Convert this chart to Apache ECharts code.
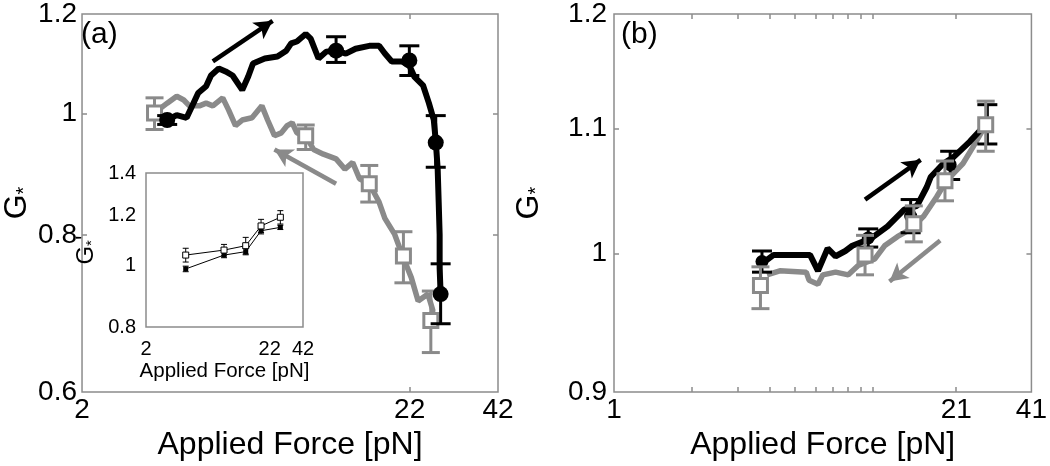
<!DOCTYPE html>
<html>
<head>
<meta charset="utf-8">
<title>G* vs applied force</title>
<script src="https://cdn.jsdelivr.net/npm/echarts@6/dist/echarts.min.js"></script>
<style>
  html, body { margin: 0; padding: 0; background: #fff; }
  #chart { width: 1050px; height: 466px; }
</style>
</head>
<body>
<div id="chart"></div>
<script>
// ---- panel (a) ----
// force going up (black trace)
var upForceA = [3.73, 4.00, 4.30, 4.52, 4.68, 4.96, 5.14, 5.44, 5.72, 6.02, 6.46, 6.75, 6.99, 7.62, 8.36, 8.92, 9.24, 9.64, 10.28, 10.66, 11.29, 11.95, 12.84, 13.79, 14.81, 16.37, 17.59, 18.35, 19.30, 20.73, 21.95, 22.75, 24.26, 25.33, 26.25, 26.63, 27.01, 27.21, 27.40, 27.40, 27.60];
var upGA = [0.988, 0.997, 0.992, 1.019, 1.038, 1.051, 1.072, 1.086, 1.080, 1.072, 1.044, 1.070, 1.096, 1.106, 1.110, 1.122, 1.137, 1.141, 1.157, 1.147, 1.106, 1.120, 1.122, 1.116, 1.126, 1.132, 1.132, 1.116, 1.100, 1.100, 1.092, 1.070, 1.053, 1.019, 0.988, 0.951, 0.903, 0.850, 0.801, 0.753, 0.718];
// force going down (gray trace)
var downForceA = [3.40, 3.73, 4.00, 4.21, 4.39, 4.72, 4.96, 5.21, 5.60, 5.85, 6.15, 6.46, 6.94, 7.46, 7.78, 8.18, 8.60, 8.98, 9.31, 9.64, 10.28, 10.89, 11.70, 12.84, 13.70, 14.50, 15.24, 16.37, 17.59, 18.35, 19.72, 21.02, 22.27, 23.41, 25.15, 26.06, 25.69];
var downGA = [1.001, 1.019, 1.032, 1.025, 1.014, 1.014, 1.019, 1.014, 1.029, 1.006, 0.978, 0.988, 0.992, 1.014, 0.988, 0.960, 0.965, 0.978, 0.983, 0.965, 0.960, 0.936, 0.928, 0.920, 0.903, 0.914, 0.887, 0.879, 0.850, 0.825, 0.801, 0.767, 0.740, 0.709, 0.718, 0.697, 0.684];
// averaged points with error bars
var circForceA = [3.73, 12.84, 21.95, 26.63, 27.60];
var circGA = [0.988, 1.122, 1.102, 0.948, 0.718];
var circLoA = [0.980, 1.098, 1.072, 0.906, 0.680];
var circHiA = [0.996, 1.151, 1.132, 0.996, 0.759];
var sqForceA = [3.40, 10.28, 16.37, 21.02, 25.69];
var sqGA = [1.001, 0.960, 0.879, 0.770, 0.684];
var sqLoA = [0.971, 0.936, 0.850, 0.733, 0.645];
var sqHiA = [1.029, 0.979, 0.909, 0.805, 0.722];
// arrows [start, end]
var upArrowA = [[5.21, 1.100], [8.07, 1.185]];
var downArrowA = [[12.84, 0.879], [8.18, 0.936]];

// ---- inset of (a) ----
var inForce = [4.32, 9.08, 13.83, 18.62, 27.07];
var inOpen = [1.039, 1.058, 1.075, 1.155, 1.192];
var inOpenLo = [1.013, 1.036, 1.043, 1.128, 1.163];
var inOpenHi = [1.065, 1.080, 1.108, 1.183, 1.221];
var inFilled = [0.988, 1.039, 1.052, 1.135, 1.149];
var inFilledLo = [0.978, 1.029, 1.040, 1.122, 1.140];
var inFilledHi = [0.998, 1.049, 1.064, 1.148, 1.158];

// ---- panel (b) ----
var upForceB = [3.64, 4.14, 5.72, 6.14, 6.69, 7.18, 7.83, 8.33, 9.91, 11.40, 13.22, 14.81, 16.16, 16.73, 18.74, 20.45, 23.7, 25.9, 27.7];
var upGB = [0.991, 0.999, 0.999, 0.987, 1.004, 0.998, 1.002, 1.006, 1.012, 1.021, 1.034, 1.037, 1.052, 1.060, 1.071, 1.076, 1.089, 1.098, 1.102];
var downForceB = [3.90, 4.37, 5.53, 5.67, 6.14, 6.41, 7.18, 8.04, 8.78, 10.18, 11.10, 12.44, 14.05, 15.74, 17.63, 19.24, 22.3, 24.3, 27.3];
var downGB = [0.984, 0.987, 0.986, 0.980, 0.977, 0.984, 0.986, 0.984, 0.991, 0.996, 1.006, 1.013, 1.019, 1.029, 1.044, 1.057, 1.071, 1.084, 1.103];
var circForceB = [3.73, 9.6, 14.0, 19.9, 27.7];
var circGB = [0.994, 1.012, 1.029, 1.070, 1.102];
var circLoB = [0.986, 1.005, 1.016, 1.058, 1.087];
var circHiB = [1.002, 1.019, 1.042, 1.081, 1.120];
var sqForceB = [3.68, 9.33, 14.4, 19.0, 27.3];
var sqGB = [0.976, 0.999, 1.023, 1.057, 1.103];
var sqLoB = [0.959, 0.984, 1.009, 1.041, 1.081];
var sqHiB = [0.990, 1.014, 1.037, 1.073, 1.123];
var upArrowB = [[9.33, 1.042], [15.30, 1.074]];
var downArrowB = [[18.2, 1.010], [11.6, 0.979]];

// tick / label positions
var xLabelsA = [2, 22, 42];
var yLabelsA = [0.6, 0.8, 1, 1.2];
var xLabelsB = [1, 21, 41];
var xTicksB = [2, 3, 4, 5, 6, 7, 8, 9, 10, 21];
var yLabelsB = [0.9, 1, 1.1, 1.2];
var yLabelsIn = [0.8, 1, 1.2, 1.4];

var GRAY = '#8a8a8a';
var FRAME = '#8c8c8c';
var FONT = 'Liberation Sans, Arial, sans-serif';

function zip(xs, ys) {
  return xs.map(function (x, i) { return [x, ys[i]]; });
}
function zip3(xs, lo, hi) {
  return xs.map(function (x, i) { return [x, lo[i], hi[i]]; });
}

function errorBars(capHalf, color, width) {
  return function (params, api) {
    var x = api.value(0);
    var top = api.coord([x, api.value(2)]);
    var bot = api.coord([x, api.value(1)]);
    var style = { stroke: color, lineWidth: width };
    return {
      type: 'group',
      children: [
        { type: 'line', shape: { x1: top[0], y1: top[1], x2: bot[0], y2: bot[1] }, style: style },
        { type: 'line', shape: { x1: top[0] - capHalf, y1: top[1], x2: top[0] + capHalf, y2: top[1] }, style: style },
        { type: 'line', shape: { x1: bot[0] - capHalf, y1: bot[1], x2: bot[0] + capHalf, y2: bot[1] }, style: style }
      ]
    };
  };
}

function arrowLine(pts, color) {
  return {
    silent: true,
    symbol: ['none', 'arrow'],
    symbolSize: [15, 18],
    label: { show: false },
    lineStyle: { color: color, width: 4.5, type: 'solid', opacity: 1 },
    data: [[{ coord: pts[0] }, { coord: pts[1] }]]
  };
}

// one log axis; labels / ticks given as lists
function logAxis(grid, pos, min, max, labels, ticks, fontSize, margin) {
  return {
    type: 'log',
    logBase: 10,
    gridIndex: grid,
    position: pos,
    min: min,
    max: max,
    axisLine: { show: false },
    splitLine: { show: false },
    axisTick: { show: true, inside: true, length: 5, customValues: ticks, lineStyle: { color: FRAME, width: 1.5 } },
    axisLabel: labels ? { show: true, customValues: labels, fontSize: fontSize, fontFamily: FONT, color: '#000', margin: margin } : { show: false }
  };
}

var xAxes = [
  logAxis(0, 'bottom', 2, 42, xLabelsA, [22], 28, 4),
  logAxis(0, 'top', 2, 42, null, [22]),
  logAxis(1, 'bottom', 1, 41, xLabelsB, xTicksB, 28, 4),
  logAxis(1, 'top', 1, 41, null, xTicksB),
  logAxis(2, 'bottom', 2, 42, xLabelsA, [22], 20, 12)
];
var yAxes = [
  logAxis(0, 'left', 0.6, 1.2, yLabelsA, [0.8, 1], 28, 5),
  logAxis(0, 'right', 0.6, 1.2, null, [0.8, 1]),
  logAxis(1, 'left', 0.9, 1.2, yLabelsB, [1, 1.1], 28, 7),
  logAxis(1, 'right', 0.9, 1.2, null, [1, 1.1]),
  logAxis(2, 'left', 0.8, 1.4, yLabelsIn, [1, 1.2], 20, 10)
];

var forceName = 'Applied Force [pN]';
xAxes[0].name = forceName;
xAxes[0].nameLocation = 'middle';
xAxes[0].nameGap = 36;
xAxes[0].nameTextStyle = { fontSize: 32, fontFamily: FONT, color: '#000' };
xAxes[2].name = forceName;
xAxes[2].nameLocation = 'middle';
xAxes[2].nameGap = 32;
xAxes[2].nameTextStyle = { fontSize: 32, fontFamily: FONT, color: '#000' };
xAxes[4].name = forceName;
xAxes[4].nameLocation = 'middle';
xAxes[4].nameGap = 34;
xAxes[4].nameTextStyle = { fontSize: 20.5, fontFamily: FONT, color: '#000' };

function gName(size, sub) {
  return {
    fontSize: size,
    fontFamily: FONT,
    color: '#000',
    rich: {
      g: { fontSize: size, fontFamily: FONT, color: '#000' },
      s: { fontSize: sub, fontFamily: FONT, color: '#000', padding: [size * 0.45, 0, 0, 0] }
    }
  };
}
yAxes[0].name = '{g|G}{s|*}';
yAxes[0].nameLocation = 'middle';
yAxes[0].nameGap = 46;
yAxes[0].nameTextStyle = gName(32, 20);
yAxes[2].name = '{g|G}{s|*}';
yAxes[2].nameLocation = 'middle';
yAxes[2].nameGap = 68;
yAxes[2].nameTextStyle = gName(32, 20);
yAxes[4].name = "{g|G}{s|*}{g|'}";
yAxes[4].nameLocation = 'middle';
yAxes[4].nameGap = 47;
yAxes[4].nameTextStyle = gName(24, 15);

var chart = echarts.init(document.getElementById('chart'), null, { renderer: 'canvas' });

chart.setOption({
  animation: false,
  backgroundColor: '#fff',
  title: [
    { text: '(a)', left: 81, top: 20, padding: 0, textStyle: { fontSize: 30, fontWeight: 'normal', fontFamily: FONT, color: '#000' } },
    { text: '(b)', left: 621, top: 20, padding: 0, textStyle: { fontSize: 30, fontWeight: 'normal', fontFamily: FONT, color: '#000' } }
  ],
  grid: [
    { left: 73, top: 10, width: 425, height: 382, show: true, borderColor: FRAME, borderWidth: 1.5, backgroundColor: '#fff' },
    { left: 614, top: 10, width: 425, height: 387, show: true, borderColor: FRAME, borderWidth: 1.5, backgroundColor: '#fff' },
    { left: 146, top: 173, width: 157, height: 154, show: true, borderColor: FRAME, borderWidth: 1.5, backgroundColor: '#fff', z: 1 }
  ],
  xAxis: xAxes,
  yAxis: yAxes,
  series: [
    // (a)
    {
      type: 'line', xAxisIndex: 0, yAxisIndex: 0, data: zip(downForceA, downGA),
      symbol: 'none', lineStyle: { color: GRAY, width: 5.5 }, z: 2,
      markLine: arrowLine(downArrowA, GRAY)
    },
    {
      type: 'line', xAxisIndex: 0, yAxisIndex: 0, data: zip(upForceA, upGA),
      symbol: 'none', lineStyle: { color: '#000', width: 6 }, z: 3,
      markLine: arrowLine(upArrowA, '#000')
    },
    {
      type: 'custom', xAxisIndex: 0, yAxisIndex: 0, data: zip3(sqForceA, sqLoA, sqHiA),
      encode: { x: 0, y: [1, 2] }, renderItem: errorBars(9, GRAY, 3), z: 4
    },
    {
      type: 'scatter', xAxisIndex: 0, yAxisIndex: 0, data: zip(sqForceA, sqGA),
      symbol: 'rect', symbolSize: 14, itemStyle: { color: '#fff', borderColor: GRAY, borderWidth: 3, opacity: 1 }, z: 5
    },
    {
      type: 'custom', xAxisIndex: 0, yAxisIndex: 0, data: zip3(circForceA, circLoA, circHiA),
      encode: { x: 0, y: [1, 2] }, renderItem: errorBars(10, '#000', 3), z: 6
    },
    {
      type: 'scatter', xAxisIndex: 0, yAxisIndex: 0, data: zip(circForceA, circGA),
      symbol: 'circle', symbolSize: 16, itemStyle: { color: '#000', opacity: 1 }, z: 7
    },
    // inset
    {
      type: 'line', xAxisIndex: 4, yAxisIndex: 4, data: zip(inForce, inFilled),
      symbol: 'rect', symbolSize: 5, itemStyle: { color: '#000' }, lineStyle: { color: '#000', width: 1 }, z: 8
    },
    {
      type: 'custom', xAxisIndex: 4, yAxisIndex: 4, data: zip3(inForce, inFilledLo, inFilledHi),
      encode: { x: 0, y: [1, 2] }, renderItem: errorBars(3, '#000', 1), z: 8
    },
    {
      type: 'custom', xAxisIndex: 4, yAxisIndex: 4, data: zip3(inForce, inOpenLo, inOpenHi),
      encode: { x: 0, y: [1, 2] }, renderItem: errorBars(3, '#000', 1), z: 9
    },
    {
      type: 'line', xAxisIndex: 4, yAxisIndex: 4, data: zip(inForce, inOpen),
      symbol: 'rect', symbolSize: 6, itemStyle: { color: '#fff', borderColor: '#000', borderWidth: 1 },
      lineStyle: { color: '#000', width: 1 }, z: 10
    },
    // (b)
    {
      type: 'line', xAxisIndex: 2, yAxisIndex: 2, data: zip(downForceB, downGB),
      symbol: 'none', lineStyle: { color: GRAY, width: 5.5 }, z: 2,
      markLine: arrowLine(downArrowB, GRAY)
    },
    {
      type: 'line', xAxisIndex: 2, yAxisIndex: 2, data: zip(upForceB, upGB),
      symbol: 'none', lineStyle: { color: '#000', width: 6 }, z: 3,
      markLine: arrowLine(upArrowB, '#000')
    },
    {
      type: 'custom', xAxisIndex: 2, yAxisIndex: 2, data: zip3(circForceB, circLoB, circHiB),
      encode: { x: 0, y: [1, 2] }, renderItem: errorBars(10, '#000', 3), z: 4
    },
    {
      type: 'scatter', xAxisIndex: 2, yAxisIndex: 2, data: zip(circForceB, circGB),
      symbol: 'circle', symbolSize: 13, itemStyle: { color: '#000', opacity: 1 }, z: 5
    },
    {
      type: 'custom', xAxisIndex: 2, yAxisIndex: 2, data: zip3(sqForceB, sqLoB, sqHiB),
      encode: { x: 0, y: [1, 2] }, renderItem: errorBars(9, GRAY, 3), z: 6
    },
    {
      type: 'scatter', xAxisIndex: 2, yAxisIndex: 2, data: zip(sqForceB, sqGB),
      symbol: 'rect', symbolSize: 14, itemStyle: { color: '#fff', borderColor: GRAY, borderWidth: 3, opacity: 1 }, z: 7
    }
  ]
});
</script>
</body>
</html>
